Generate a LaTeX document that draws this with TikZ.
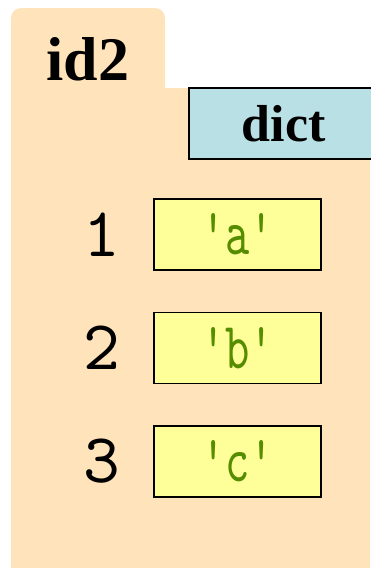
\documentclass[tikz,border=0pt]{standalone}
\usepackage{fontspec}
\setmainfont{Liberation Serif}
\setmonofont{lmmono10-regular.otf}
\usepackage{graphicx}
\usetikzlibrary{positioning}

\definecolor{framepeach}{RGB}{255,227,186}
\definecolor{typeblue}{RGB}{185,224,228}
\definecolor{valyellow}{RGB}{255,255,153}
\definecolor{strgreen}{RGB}{85,140,0}
\newcommand{\valstr}[1]{\scalebox{0.7}[1]{#1}}

\begin{document}
\begin{tikzpicture}[
  x=1pt, y=-1pt,
  node distance=41pt,
  framelabel/.style={font=\fontsize{62}{70}\bfseries\selectfont, inner sep=0pt},
  typebox/.style={draw, fill=typeblue, line width=1.5pt, minimum width=190pt,
    minimum height=71pt, inner sep=0pt, font=\fontsize{52}{60}\bfseries\selectfont},
  valbox/.style={draw, fill=valyellow, line width=1.5pt, minimum width=167pt,
    minimum height=71pt, inner sep=0pt, text=strgreen,
    font=\fontsize{66}{70}\ttfamily\selectfont},
  keylabel/.style={inner sep=0pt, font=\fontsize{70}{74}\ttfamily\selectfont}
]
\useasboundingbox (0,0) rectangle (370,568);
% frame: tab and body
\fill[framepeach, rounded corners=10pt] (11,8) rectangle (165,110);
\fill[framepeach] (11,88) rectangle (370,568);
\node[framelabel, anchor=base] (frameid) at (88,80) {id2};
\node[typebox, anchor=north west] (type) at (188,87) {dict};
% entries
\node[valbox] (v1) at (237.5,234.5) {\valstr{'a'}};
\node[valbox, below=of v1] (v2) {\valstr{'b'}};
\node[valbox, below=of v2] (v3) {\valstr{'c'}};
\node[keylabel, left=51pt of v1.west, anchor=center] (k1) {1};
\node[keylabel, left=51pt of v2.west, anchor=center] (k2) {2};
\node[keylabel, left=51pt of v3.west, anchor=center] (k3) {3};
\end{tikzpicture}
\end{document}
